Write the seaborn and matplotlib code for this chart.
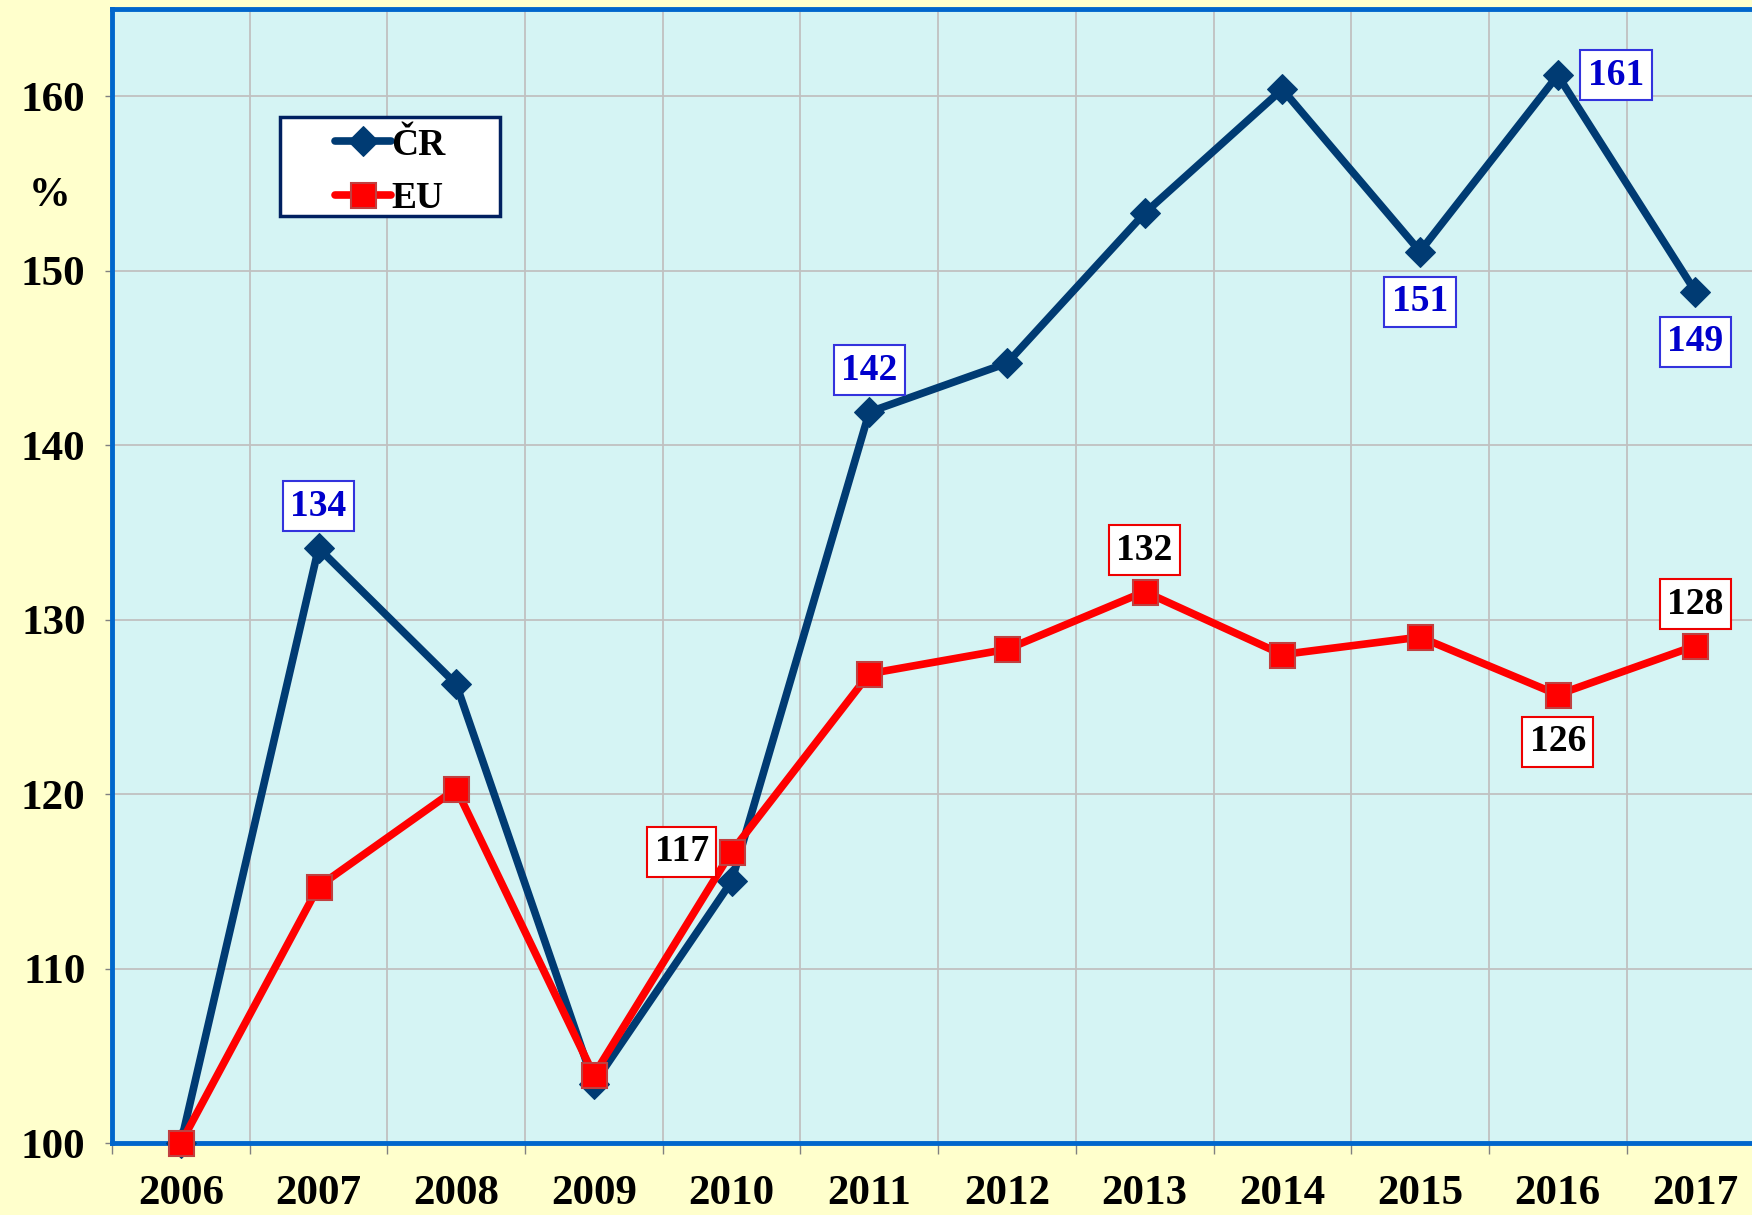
import pandas as pd
import matplotlib.pyplot as plt
from matplotlib.patches import Rectangle
import seaborn as sns

years = [2006, 2007, 2008, 2009, 2010, 2011, 2012, 2013, 2014, 2015, 2016, 2017]
cr_values = [100.0, 134.1, 126.3, 103.4, 115.0, 141.9, 144.7, 153.3, 160.4, 151.1, 161.2, 148.8]
eu_values = [100.0, 114.7, 120.3, 103.9, 116.7, 126.9, 128.3, 131.6, 128.0, 129.0, 125.7, 128.5]

# which points get a boxed label, and where the box sits (dx, dy in points)
cr_labels = {2007: ("134", 0, 30), 2011: ("142", 0, 30), 2015: ("151", 0, -36),
             2016: ("161", 42, 0), 2017: ("149", 0, -36)}
eu_labels = {2010: ("117", -36, 0), 2013: ("132", 0, 30), 2016: ("126", 0, -34),
             2017: ("128", 0, 30)}

cr_color = "#003B73"
eu_color = "#FF0000"

df = pd.DataFrame({"year": years * 2,
                   "value": cr_values + eu_values,
                   "series": ["ČR"] * len(years) + ["EU"] * len(years)})

sns.set_style("white")
plt.rcParams['font.family'] = ['Liberation Serif', 'DejaVu Serif']
plt.rcParams['font.weight'] = 'bold'
plt.rcParams['text.color'] = 'black'
plt.rcParams['xtick.color'] = 'black'
plt.rcParams['ytick.color'] = 'black'

fig = plt.figure(figsize=(17.52, 12.15), dpi=100, facecolor="#FFFFCC")
ax = fig.add_axes([112 / 1752, 1 - 1143 / 1215, 1.007 - 112 / 1752, (1143 - 9) / 1215])
ax.set_facecolor("#D5F4F4")

sns.lineplot(data=df[df.series == "ČR"], x="year", y="value", ax=ax, color=cr_color,
             linewidth=5.5, marker="D", markersize=15, markeredgecolor=cr_color,
             label="ČR", zorder=3, clip_on=False)
sns.lineplot(data=df[df.series == "EU"], x="year", y="value", ax=ax, color=eu_color,
             linewidth=5.5, marker="s", markersize=18, markeredgecolor="#C04040",
             markeredgewidth=1.5, label="EU", zorder=4, clip_on=False)

ax.set_xlim(years[0] - 0.5, years[-1] + 0.5)
ax.set_ylim(100, 165)
ax.set_xticks(years)
ax.set_xticks([y - 0.5 for y in years] + [years[-1] + 0.5], minor=True)
ax.set_yticks([100, 110, 120, 130, 140, 150, 160])
ax.tick_params(axis="x", which="major", length=0, pad=23, labelsize=31, labelcolor="black")
ax.tick_params(axis="x", which="minor", length=8, width=1, color="#808080", bottom=True)
ax.tick_params(axis="y", length=5, width=1, color="#808080", pad=14, labelsize=31,
               left=True, labelcolor="black")
for lab in ax.get_xticklabels() + ax.get_yticklabels():
    lab.set_fontweight("bold")
ax.grid(False)
ax.grid(True, axis="x", which="minor", color="#C0C0C0", linewidth=1.3)
ax.grid(True, axis="y", which="major", color="#C0C0C0", linewidth=1.3)
ax.set_axisbelow(True)
ax.set_xlabel("")
ax.set_ylabel("")

for side in ["left", "top", "bottom"]:
    ax.spines[side].set_color("#0066CC")
    ax.spines[side].set_linewidth(3.5)
ax.spines["right"].set_visible(False)

for yr, (txt, dx, dy) in cr_labels.items():
    ax.annotate(txt, (yr, cr_values[years.index(yr)]), xytext=(dx, dy),
                textcoords="offset points", ha="center", va="center",
                fontsize=27, fontweight="bold", color="#0000CC", zorder=6,
                bbox=dict(boxstyle="square,pad=0.2", fc="white", ec="#3333DD", lw=1.5))
for yr, (txt, dx, dy) in eu_labels.items():
    ax.annotate(txt, (yr, eu_values[years.index(yr)]), xytext=(dx, dy),
                textcoords="offset points", ha="center", va="center",
                fontsize=27, fontweight="bold", color="black", zorder=6,
                bbox=dict(boxstyle="square,pad=0.2", fc="white", ec="#EE0000", lw=1.5))

# legend frame drawn separately so it can be wider than the entries
ax.add_patch(Rectangle((0.1017, 0.8175), 0.1332, 0.0873, transform=ax.transAxes,
                       facecolor="white", edgecolor="#002060", linewidth=2.5, zorder=7))
leg = ax.legend(loc="upper left", bbox_to_anchor=(0.135, 0.8955), frameon=False,
                prop=dict(family="Liberation Serif", weight="bold", size=27),
                handlelength=1.5, handletextpad=0.0, borderpad=0, labelspacing=0.5,
                borderaxespad=0)
leg.set_zorder(8)

fig.text(50 / 1752, 1 - 196 / 1215, "%", fontsize=30, fontweight="bold",
         ha="center", va="center")

fig.savefig("out.png", dpi=100, facecolor=fig.get_facecolor())
